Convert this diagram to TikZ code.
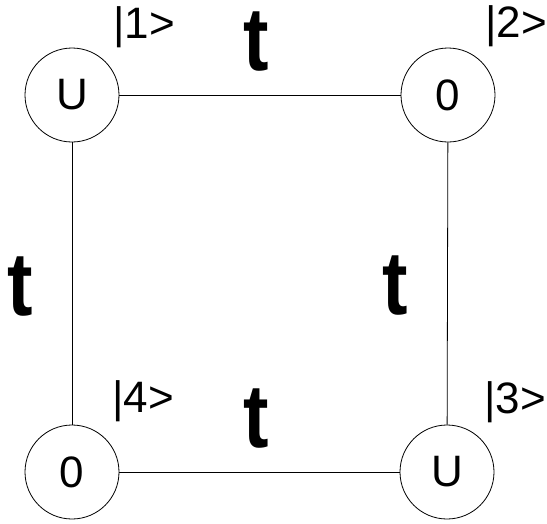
\documentclass[tikz,border=0pt]{standalone}
\usepackage{fontspec}
\setmainfont{Liberation Sans}
\begin{document}
\begin{tikzpicture}[x=1pt,y=-1pt,
  site/.style={draw,circle,line width=0.8pt,minimum size=94pt,inner sep=0pt,font=\fontsize{44}{44}\selectfont},
  ket/.style={inner sep=0pt,font=\fontsize{44}{44}\selectfont},
  hop/.style={inner sep=0pt,anchor=base,xscale=0.85,font=\fontsize{90}{90}\selectfont\bfseries},
  bond/.style={line width=0.8pt}]
\useasboundingbox (0,0) rectangle (547,523);
\node[site] (s1) at (72,95) {U};
\node[site] (s2) at (448,95) {0};
\node[site] (s3) at (447,472) {U};
\node[site] (s4) at (72,472) {0};
\draw[bond] (s1) -- (s2);
\draw[bond] (s2) -- (s3);
\draw[bond] (s3) -- (s4);
\draw[bond] (s4) -- (s1);
\node[ket] (k1) at (144,27) {|1>};
\node[ket] (k2) at (516,26) {|2>};
\node[ket] (k3) at (515,402) {|3>};
\node[ket] (k4) at (143,401) {|4>};
\node[hop] (t12) at (256,70) {t};
\node[hop] (t23) at (395,314) {t};
\node[hop] (t34) at (256,447) {t};
\node[hop] (t41) at (20,315) {t};
\end{tikzpicture}
\end{document}
